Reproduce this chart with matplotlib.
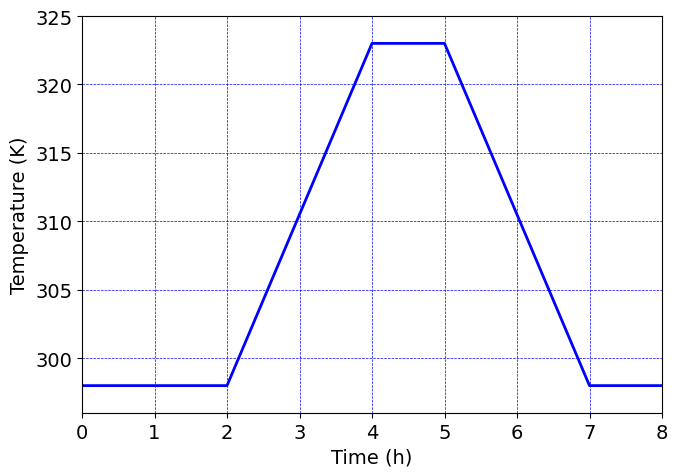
import numpy as np
import matplotlib.pyplot as plt

time_h = [0, 2, 4, 5, 7, 8]
temp_K = [298, 298, 323, 323, 298, 298]
xticks = [0, 1, 2, 3, 4, 5, 6, 7, 8]
yticks = [300, 305, 310, 315, 320, 325]

fig = plt.figure(figsize=(6.77, 4.77), dpi=100)
ax = fig.add_axes([82/677, 1-414/477, 580/677, 397/477])
ax.plot(time_h, temp_K, color="b", linewidth=2)
ax.set_xlim(0, 8)
ax.set_ylim(296, 325)
ax.set_xticks(xticks)
ax.set_yticks(yticks)
ax.grid(color="b", linestyle="--", linewidth=0.5)
ax.tick_params(labelsize=14)
ax.set_xlabel("Time (h)", fontsize=14)
ax.set_ylabel("Temperature (K)", fontsize=14)
fig.savefig("out.png", dpi=100)
